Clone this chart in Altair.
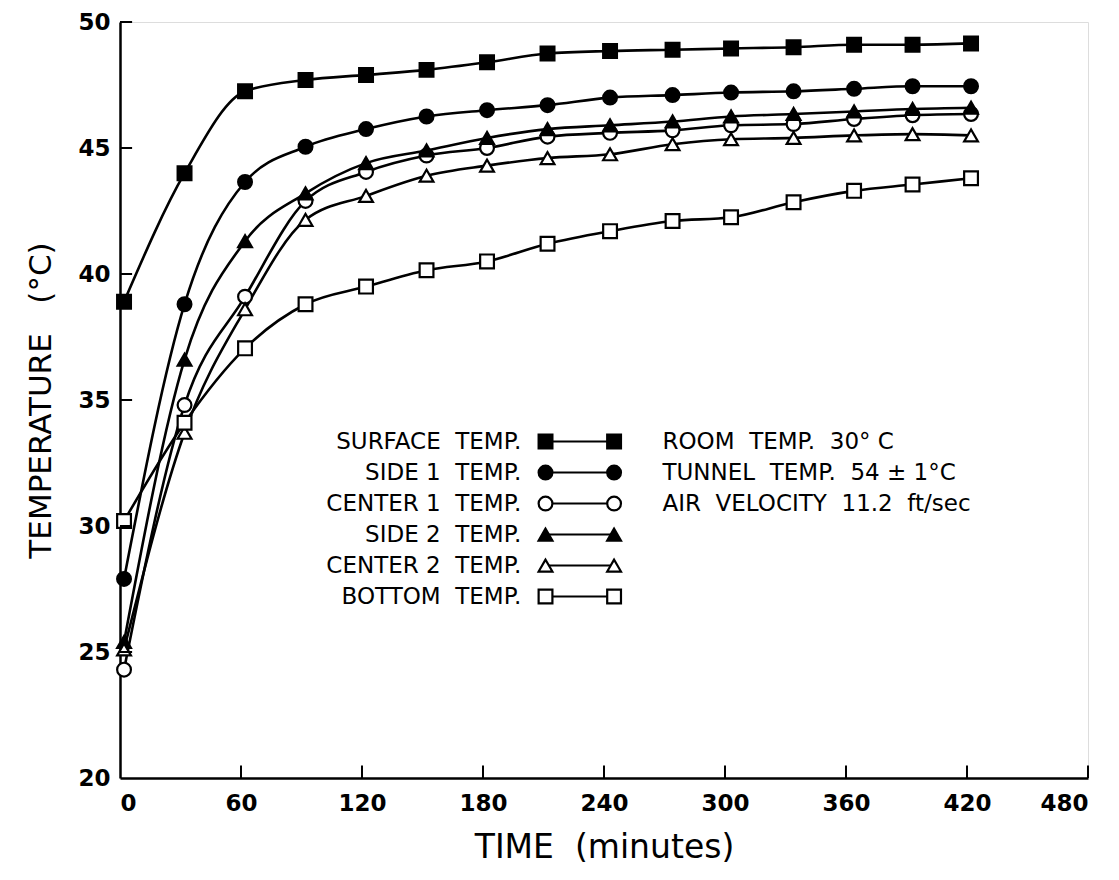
import altair as alt
import pandas as pd

NB = "\u00a0"

# ---- data ----
times = [2, 32, 62, 92, 122, 152, 182, 212, 243, 274, 303, 334, 364, 393, 422]
series_names = ["SURFACE  TEMP.", "SIDE 1  TEMP.", "CENTER 1  TEMP.", "SIDE 2  TEMP.", "CENTER 2  TEMP.", "BOTTOM  TEMP."]
surface = [38.9, 44.0, 47.25, 47.7, 47.9, 48.1, 48.4, 48.75, 48.85, 48.9, 48.95, 49.0, 49.1, 49.1, 49.15]
side1 = [27.9, 38.8, 43.65, 45.05, 45.75, 46.25, 46.5, 46.7, 47.0, 47.1, 47.2, 47.25, 47.35, 47.45, 47.45]
center1 = [24.3, 34.8, 39.1, 42.9, 44.05, 44.7, 45.0, 45.45, 45.6, 45.7, 45.9, 45.95, 46.15, 46.3, 46.35]
side2 = [25.4, 36.6, 41.3, 43.2, 44.4, 44.9, 45.4, 45.75, 45.9, 46.05, 46.25, 46.35, 46.45, 46.55, 46.6]
center2 = [25.1, 33.7, 38.6, 42.15, 43.1, 43.9, 44.3, 44.6, 44.75, 45.15, 45.35, 45.4, 45.5, 45.55, 45.5]
bottom = [30.2, 34.1, 37.05, 38.8, 39.5, 40.15, 40.5, 41.2, 41.7, 42.1, 42.25, 42.85, 43.3, 43.55, 43.8]
notes = ["ROOM  TEMP.  30° C", "TUNNEL  TEMP.  54 ± 1°C", "AIR  VELOCITY  11.2  ft/sec"]
x_ticks = [0, 60, 120, 180, 240, 300, 360, 420, 480]
y_ticks = [20, 25, 30, 35, 40, 45, 50]
x_title = "TIME  (minutes)"
y_title = "TEMPERATURE   (°C)"

shapes = ["square", "circle", "circle", "triangle-up", "triangle-up", "square"]
fills = ["black", "black", "white", "black", "white", "white"]

FONT = "DejaVu Sans"


def nb(s):
    return s.replace(" ", NB)


rows = []
for name, vals in zip(series_names, [surface, side1, center1, side2, center2, bottom]):
    for t, v in zip(times, vals):
        rows.append({"series": name, "t": t, "temp": v})
df = pd.DataFrame(rows)

xs = alt.Scale(domain=[0, 480], nice=False)
ys = alt.Scale(domain=[20, 50], nice=False)
shape_scale = alt.Scale(domain=series_names, range=shapes)
fill_scale = alt.Scale(domain=series_names, range=fills)

base_x = alt.X("t:Q", scale=xs, axis=alt.Axis(
    values=x_ticks, title=nb(x_title), grid=False, ticks=False,
    domainColor="black", domainWidth=2.5, labelFont=FONT, labelFontSize=23,
    labelFontWeight="bold", labelColor="black", labelPadding=14,
    titleFont=FONT, titleFontSize=33, titleFontWeight="normal", titleColor="black",
    titlePadding=16))
base_y = alt.Y("temp:Q", scale=ys, axis=alt.Axis(
    values=y_ticks, title=nb(y_title), grid=False, ticks=False,
    domainColor="black", domainWidth=2.5, labelFont=FONT, labelFontSize=23,
    labelFontWeight="bold", labelColor="black", labelPadding=10,
    titleFont=FONT, titleFontSize=31, titleFontWeight="normal", titleColor="black",
    titlePadding=20))

lines = alt.Chart(df).mark_line(color="black", strokeWidth=2.6, interpolate="monotone").encode(
    x=base_x, y=base_y, detail="series:N")
points = alt.Chart(df).mark_point(size=190, stroke="black", strokeWidth=2.2, opacity=1, filled=False).encode(
    x="t:Q", y="temp:Q",
    shape=alt.Shape("series:N", scale=shape_scale, legend=None),
    fill=alt.Fill("series:N", scale=fill_scale, legend=None))

# inward ticks
xt = pd.DataFrame({"t": x_ticks[1:], "temp": [20] * (len(x_ticks) - 1), "temp2": [20.5] * (len(x_ticks) - 1)})
yt = pd.DataFrame({"t": [0] * (len(y_ticks) - 1), "t2": [6] * (len(y_ticks) - 1), "temp": y_ticks[1:]})
xtick = alt.Chart(xt).mark_rule(color="black", strokeWidth=2).encode(x="t:Q", y="temp:Q", y2="temp2:Q")
ytick = alt.Chart(yt).mark_rule(color="black", strokeWidth=2).encode(x="t:Q", x2="t2:Q", y="temp:Q")

# legend built in data units
leg_top, leg_step = 33.35, 1.23
leg = pd.DataFrame({
    "series": series_names,
    "label": [nb(s) for s in series_names],
    "y": [leg_top - i * leg_step for i in range(len(series_names))],
    "xt": [199] * len(series_names),
    "xa": [211] * len(series_names),
    "xb": [245] * len(series_names),
})
leg_text = alt.Chart(leg).mark_text(align="right", baseline="middle", font=FONT, fontSize=23, color="black").encode(
    x="xt:Q", y="y:Q", text="label:N")
leg_line = alt.Chart(leg).mark_rule(color="black", strokeWidth=2).encode(x="xa:Q", x2="xb:Q", y="y:Q")
leg_long = leg.melt(id_vars=["series", "y"], value_vars=["xa", "xb"], value_name="x")
leg_pts = alt.Chart(leg_long).mark_point(size=190, stroke="black", strokeWidth=2.2, opacity=1).encode(
    x="x:Q", y="y:Q",
    shape=alt.Shape("series:N", scale=shape_scale, legend=None),
    fill=alt.Fill("series:N", scale=fill_scale, legend=None))
nd = pd.DataFrame({"label": [nb(s) for s in notes],
                   "y": [leg_top - i * leg_step for i in range(len(notes))],
                   "x": [269] * len(notes)})
note_text = alt.Chart(nd).mark_text(align="left", baseline="middle", font=FONT, fontSize=23, color="black").encode(
    x="x:Q", y="y:Q", text="label:N")

chart = alt.layer(lines, points, xtick, ytick, leg_line, leg_pts, leg_text, note_text).properties(
    width=968, height=756,
    autosize=alt.AutoSizeParams(type="none"),
    padding={"left": 112, "top": 14, "right": 20, "bottom": 90},
).configure_view(stroke=None).configure(background="white")

chart.save("out.html", embed_options={"renderer": "svg", "actions": False})
